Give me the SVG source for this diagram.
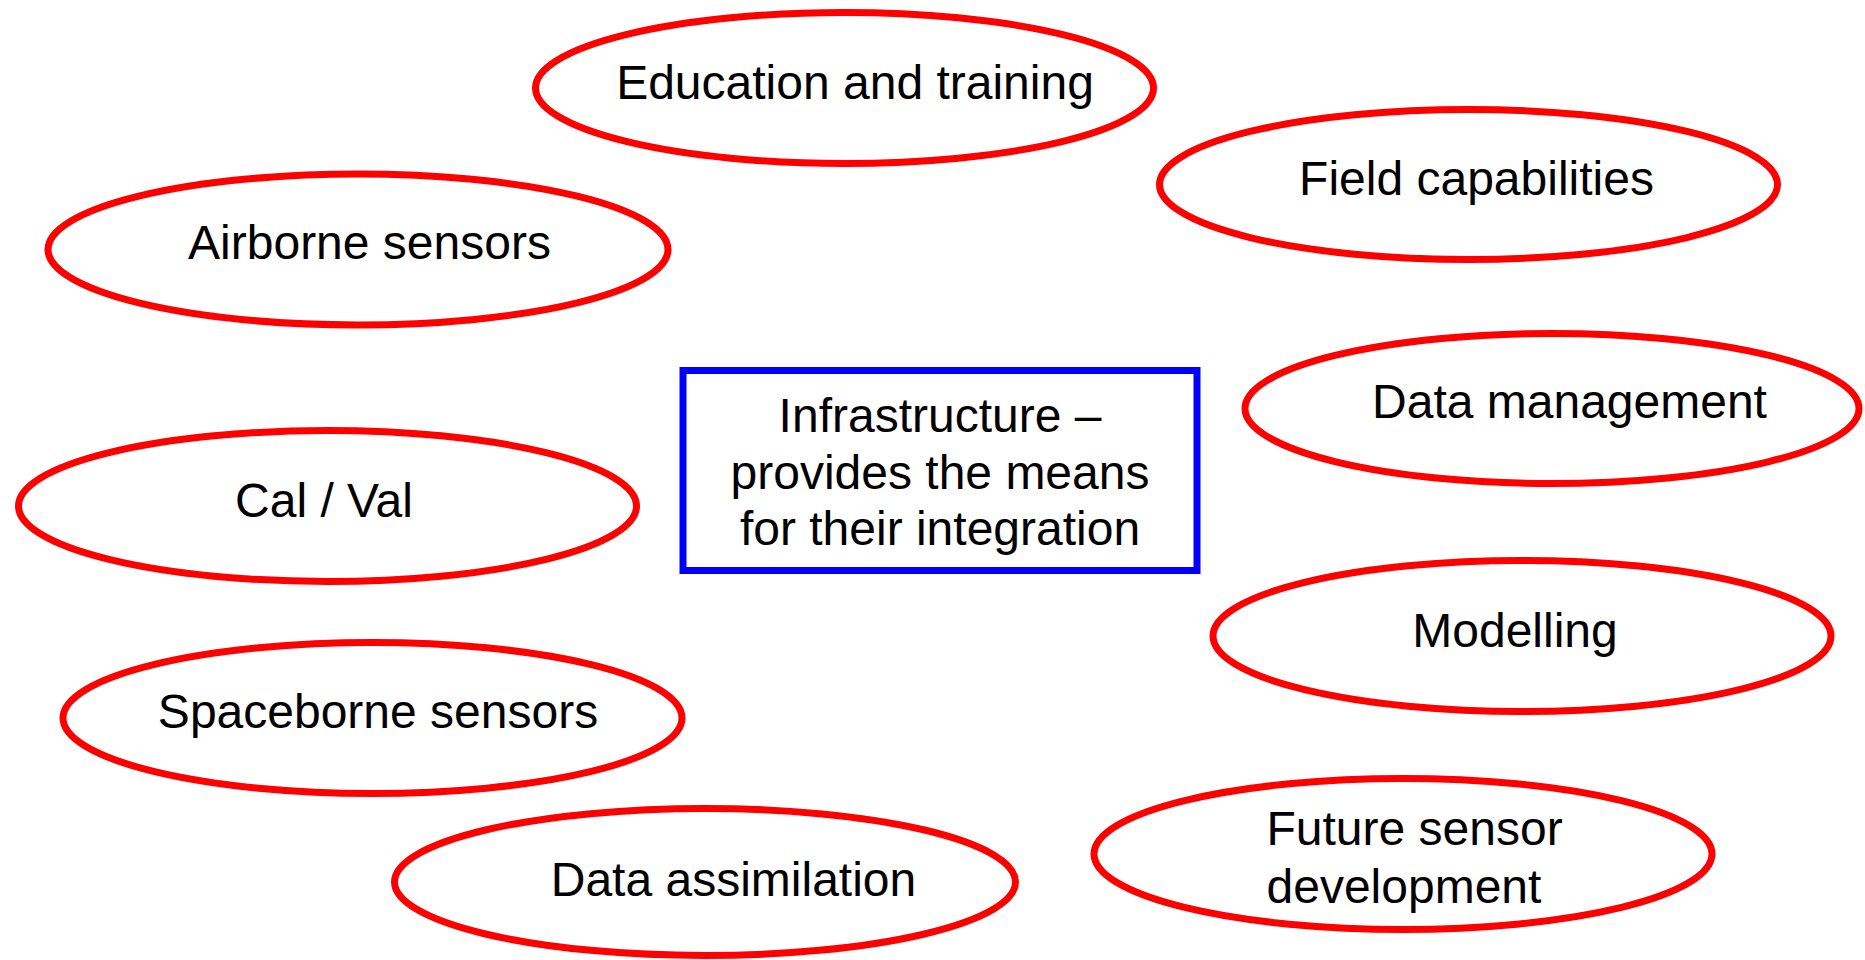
<svg xmlns="http://www.w3.org/2000/svg" width="1865" height="960" viewBox="0 0 1865 960">
<style>
.oval{fill:#FFFFFF;stroke:#FF0000;stroke-width:7}
.box{fill:#FFFFFF;stroke:#0000FF;stroke-width:7}
.t{font-family:"Liberation Sans",Arial,sans-serif;font-size:48px;fill:#000000;text-anchor:middle}
.l{text-anchor:start}
</style>
<rect width="1865" height="960" fill="#FFFFFF"/>
<g id="connectors"></g>
<g id="node-education">
<ellipse class="oval" cx="844.5" cy="88" rx="309" ry="75.5"/>
<text class="t" x="855" y="99">Education and training</text>
</g>
<g id="node-field">
<ellipse class="oval" cx="1468.5" cy="184.5" rx="309" ry="75"/>
<text class="t" x="1476.5" y="195">Field capabilities</text>
</g>
<g id="node-airborne">
<ellipse class="oval" cx="358" cy="249.5" rx="310" ry="75.5"/>
<text class="t" x="369.5" y="259">Airborne sensors</text>
</g>
<g id="node-datamgmt">
<ellipse class="oval" cx="1552" cy="408.5" rx="307" ry="75"/>
<text class="t" x="1569.5" y="418">Data management</text>
</g>
<g id="node-calval">
<ellipse class="oval" cx="327.5" cy="506" rx="309" ry="75.5"/>
<text class="t" x="324" y="517">Cal / Val</text>
</g>
<g id="node-infrastructure">
<rect class="box" x="683" y="370.5" width="514" height="200"/>
<text class="t" x="940" y="432">Infrastructure –</text>
<text class="t" x="940" y="489">provides the means</text>
<text class="t" x="940" y="545">for their integration</text>
</g>
<g id="node-modelling">
<ellipse class="oval" cx="1522" cy="636" rx="309" ry="75.5"/>
<text class="t" x="1515" y="647">Modelling</text>
</g>
<g id="node-spaceborne">
<ellipse class="oval" cx="372.5" cy="718" rx="309.5" ry="75.5"/>
<text class="t" x="378" y="728">Spaceborne sensors</text>
</g>
<g id="node-future">
<ellipse class="oval" cx="1403" cy="854" rx="309" ry="75.5"/>
<text class="t l" x="1266.5" y="845">Future sensor</text>
<text class="t l" x="1266.5" y="903">development</text>
</g>
<g id="node-assimilation">
<ellipse class="oval" cx="705" cy="882" rx="310.5" ry="73.5"/>
<text class="t" x="733.5" y="896">Data assimilation</text>
</g>
</svg>
